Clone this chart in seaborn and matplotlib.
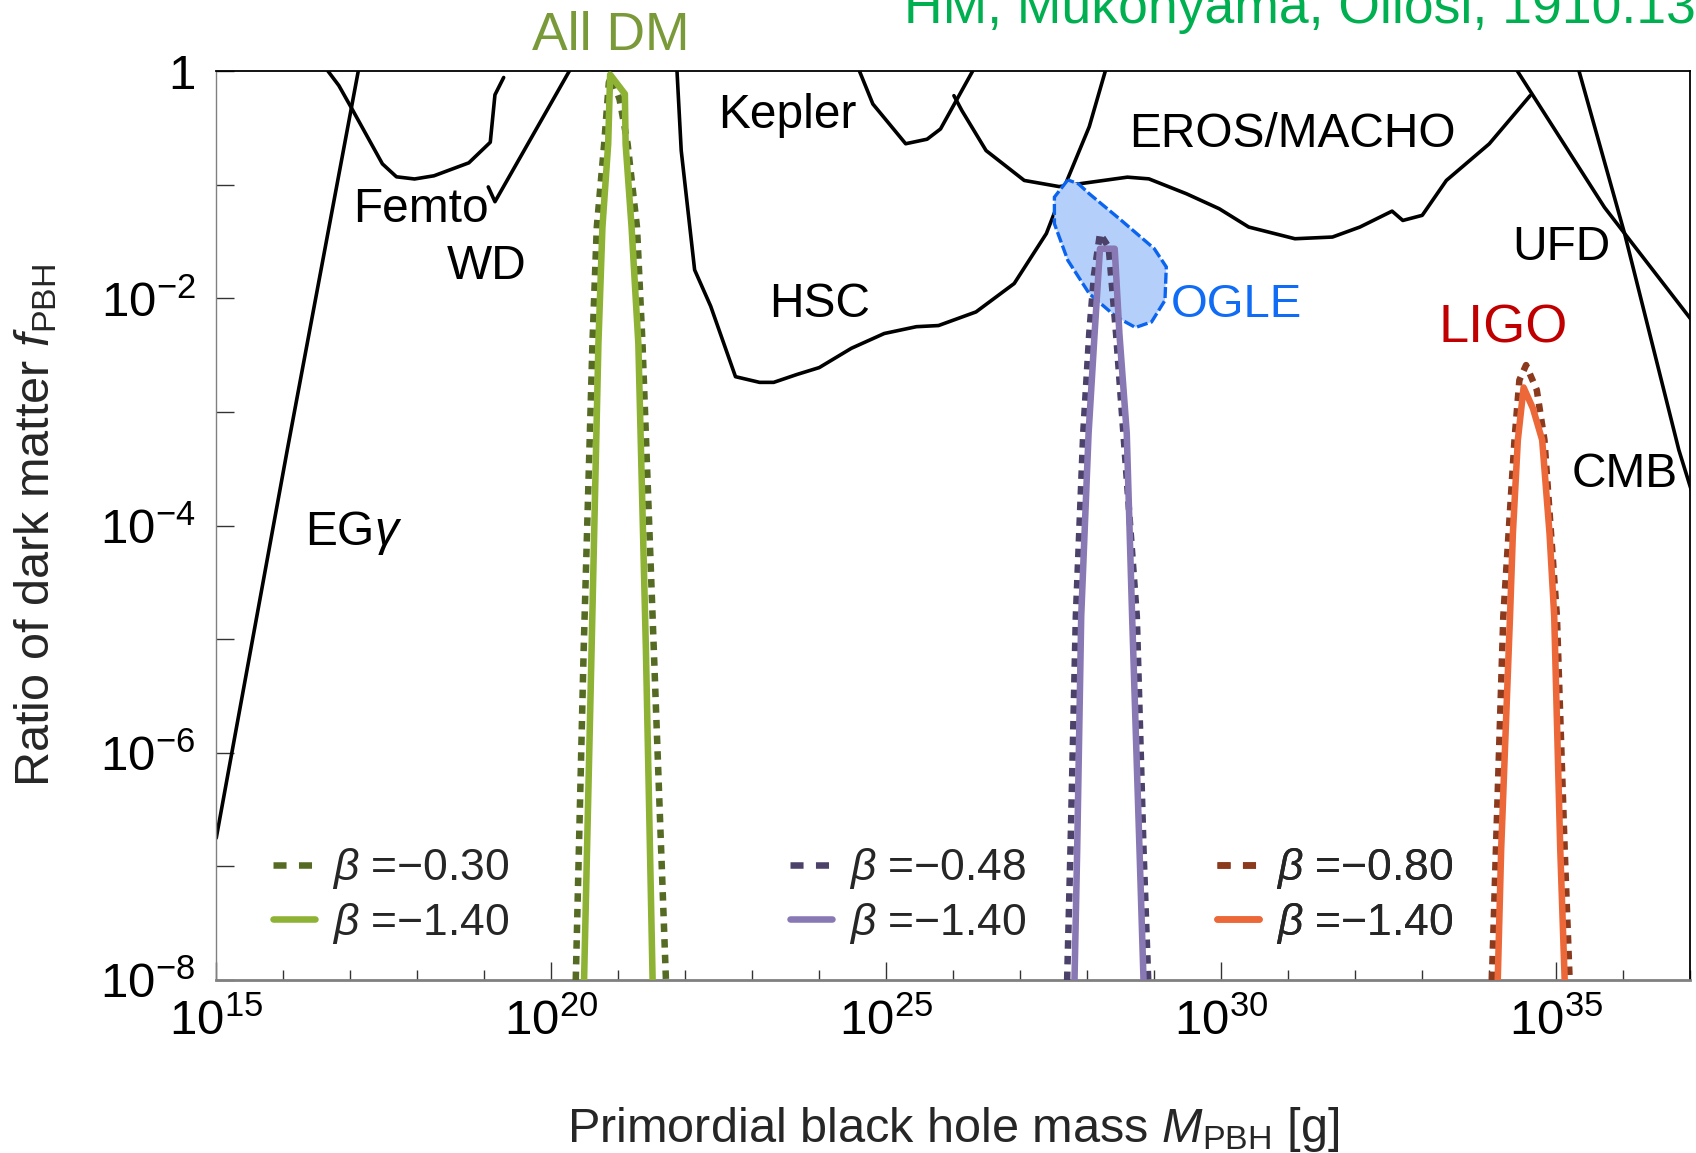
import numpy as np
import pandas as pd
import matplotlib
matplotlib.use("Agg")
import matplotlib.pyplot as plt
import seaborn as sns
from matplotlib.lines import Line2D
from matplotlib.ticker import FixedLocator, FixedFormatter, NullFormatter

# ---------------- data (log10 of mass in g, log10 of f_PBH) ----------------
egamma_logm = [15.0, 16.06, 17.12]
egamma_logf = [-6.75, -3.335, 0.0]

femto_logm = [16.667, 16.83, 17.04, 17.48, 17.69, 17.96, 18.25, 18.77, 19.09, 19.16, 19.29]
femto_logf = [0.0, -0.128, -0.348, -0.817, -0.931, -0.950, -0.922, -0.808, -0.627, -0.209, -0.057]

wd_logm = [19.06, 19.16, 20.27]
wd_logf = [-1.02, -1.15, 0.0]

hsc_logm = [21.877, 21.94, 22.14, 22.38, 22.75, 23.11, 23.32, 23.67, 24.00, 24.48, 24.97,
            25.45, 25.78, 26.34, 26.91, 27.39, 27.70, 28.03, 28.27]
hsc_logf = [0.0, -0.70, -1.75, -2.07, -2.69, -2.74, -2.74, -2.67, -2.61, -2.44, -2.31,
            -2.25, -2.24, -2.12, -1.87, -1.43, -0.96, -0.49, 0.0]

kepler_logm = [24.60, 24.80, 25.29, 25.61, 25.81, 26.29]
kepler_logf = [0.0, -0.29, -0.64, -0.60, -0.51, 0.0]

eros_logm = [26.01, 26.13, 26.49, 27.06, 27.58, 27.95, 28.60, 28.92, 29.48, 29.97, 30.41,
             31.10, 31.66, 32.07, 32.55, 32.71, 33.00, 33.36, 34.00, 34.61]
eros_logf = [-0.217, -0.349, -0.70, -0.963, -1.017, -0.987, -0.934, -0.949, -1.080, -1.212, -1.373,
             -1.476, -1.461, -1.373, -1.233, -1.315, -1.270, -0.963, -0.641, -0.217]

ufd_logm = [34.42, 35.72, 37.03]
ufd_logf = [0.0, -1.20, -2.20]

cmb_logm = [35.34, 36.02, 36.83, 37.03]
cmb_logf = [0.0, -1.43, -3.335, -3.715]

ogle_logm = [27.71, 27.51, 27.51, 27.71, 28.03, 28.43, 28.72, 28.96, 29.16, 29.18, 29.00, 28.51, 28.03, 27.87]
ogle_logf = [-0.958, -1.110, -1.344, -1.666, -1.959, -2.163, -2.257, -2.208, -2.018, -1.724, -1.563,
             -1.315, -1.080, -0.993]

# peaks: beta dashed (first value) and beta = -1.40 solid
green_dash_logm = [20.366, 20.484, 20.615, 20.68, 20.79, 20.86, 20.90, 21.02, 21.14, 21.28, 21.362, 21.531, 21.712]
green_dash_logf = [-8.0, -5.093, -2.398, -1.374, -0.641, -0.10, -0.05, -0.25, -0.641, -1.374, -2.398, -5.093, -8.0]
green_solid_logm = [20.490, 20.602, 20.704, 20.764, 20.85, 20.879, 21.099, 21.11, 21.199, 21.30, 21.413, 21.513]
green_solid_logf = [-8.0, -5.093, -2.398, -1.374, -0.641, -0.032, -0.202, -0.641, -1.374, -2.398, -5.093, -8.0]

purple_dash_logm = [27.70, 27.75, 27.83, 27.94, 28.03, 28.10, 28.19, 28.32, 28.43, 28.54, 28.74, 28.84, 28.91]
purple_dash_logf = [-8.0, -6.85, -4.80, -3.19, -2.31, -1.80, -1.432, -1.55, -2.31, -3.19, -4.80, -6.85, -8.0]
purple_solid_logm = [27.81, 27.85, 27.91, 28.02, 28.11, 28.19, 28.41, 28.48, 28.59, 28.67, 28.78, 28.84]
purple_solid_logf = [-8.0, -6.85, -4.80, -3.19, -2.31, -1.564, -1.564, -2.31, -3.19, -4.80, -6.85, -8.0]

orange_dash_logm = [34.04, 34.10, 34.21, 34.377, 34.45, 34.55, 34.71, 34.824, 35.01, 35.126, 35.20]
orange_dash_logf = [-8.0, -6.85, -4.80, -3.247, -2.72, -2.588, -2.808, -3.247, -4.80, -6.85, -8.0]
orange_solid_logm = [34.127, 34.178, 34.31, 34.353, 34.427, 34.513, 34.652, 34.79, 34.90, 34.97, 35.06, 35.126]
orange_solid_logf = [-8.0, -6.85, -4.80, -4.07, -3.247, -2.785, -2.969, -3.247, -4.07, -4.80, -6.85, -8.0]

legend_labels_dash = ["\u22120.30", "\u22120.48", "\u22120.80"]
legend_labels_solid = ["\u22121.40", "\u22121.40", "\u22121.40"]

x_major_exps = [15, 20, 25, 30, 35]
x_minor_exps = list(range(15, 38))
y_major_exps = [0, -2, -4, -6, -8]
y_minor_exps = list(range(-8, 1))

# ---------------- style ----------------
sns.set_theme(style="ticks")
plt.rcParams['font.family'] = ['Liberation Sans', 'DejaVu Sans']
plt.rcParams['mathtext.fontset'] = 'custom'
plt.rcParams['mathtext.rm'] = 'Liberation Sans'
plt.rcParams['mathtext.it'] = 'Liberation Sans:italic'
plt.rcParams['mathtext.bf'] = 'Liberation Sans:bold'

fig = plt.figure(figsize=(16.96, 11.53), dpi=100)
ax = fig.add_axes([0.1275, 0.1500, 0.8691, 0.7884])
ax.set_xscale('log')
ax.set_yscale('log')


def draw(logm, logf, color, lw, ls='-', z=2):
    df = pd.DataFrame({'M': 10.0 ** np.array(logm), 'f': 10.0 ** np.array(logf)})
    sns.lineplot(data=df, x='M', y='f', sort=False, estimator=None, color=color,
                 linewidth=lw, linestyle=ls, ax=ax, zorder=z)


BLK_LW = 2.6
for lm, lf in [(egamma_logm, egamma_logf), (femto_logm, femto_logf), (wd_logm, wd_logf),
               (hsc_logm, hsc_logf), (kepler_logm, kepler_logf), (eros_logm, eros_logf),
               (ufd_logm, ufd_logf), (cmb_logm, cmb_logf)]:
    draw(lm, lf, 'black', BLK_LW)

# OGLE region
ax.fill(10.0 ** np.array(ogle_logm), 10.0 ** np.array(ogle_logf), facecolor='#b4d0fa',
        edgecolor='#0a64f0', linewidth=2.4, linestyle=(0, (3.3, 1.0)), zorder=3)

PK_LW = 4.7
DASH = (0, (1.3, 1.1))
cols_dash = ['#556b23', '#4b4169', '#8c3a1e']
cols_solid = ['#8db234', '#8878b4', '#ec6838']
draw(green_dash_logm, green_dash_logf, cols_dash[0], PK_LW, DASH, 4)
draw(purple_dash_logm, purple_dash_logf, cols_dash[1], PK_LW, DASH, 4)
draw(orange_dash_logm, orange_dash_logf, cols_dash[2], PK_LW, DASH, 4)
draw(green_solid_logm, green_solid_logf, cols_solid[0], PK_LW, '-', 5)
draw(purple_solid_logm, purple_solid_logf, cols_solid[1], PK_LW, '-', 5)
draw(orange_solid_logm, orange_solid_logf, cols_solid[2], PK_LW, '-', 5)

ax.set_xlim(1e15, 1e37)
ax.set_ylim(1e-8, 1)

# ---------------- ticks ----------------
ax.xaxis.set_major_locator(FixedLocator([10.0 ** e for e in x_major_exps]))
ax.xaxis.set_major_formatter(FixedFormatter([r"$10^{%d}$" % e for e in x_major_exps]))
ax.xaxis.set_minor_locator(FixedLocator([10.0 ** e for e in x_minor_exps if e not in x_major_exps]))
ax.xaxis.set_minor_formatter(NullFormatter())
ax.yaxis.set_major_locator(FixedLocator([10.0 ** e for e in y_major_exps]))
ax.yaxis.set_major_formatter(FixedFormatter(["1" if e == 0 else r"$10^{%d}$" % e for e in y_major_exps]))
ax.yaxis.set_minor_locator(FixedLocator([10.0 ** e for e in y_minor_exps if e not in y_major_exps]))
ax.yaxis.set_minor_formatter(NullFormatter())

ax.tick_params(axis='both', which='both', direction='in', color='#333333', width=1.0,
               labelsize=35.5, labelcolor='black', top=False, right=False)
ax.tick_params(axis='x', which='major', length=13, pad=13)
ax.tick_params(axis='x', which='minor', length=7.5)
ax.tick_params(axis='y', which='both', length=13, pad=15)

for side in ['top', 'right']:
    ax.spines[side].set_color('black')
    ax.spines[side].set_linewidth(1.3)
ax.spines['bottom'].set_color('#808080')
ax.spines['bottom'].set_linewidth(2.0)
ax.spines['left'].set_color('#808080')
ax.spines['left'].set_linewidth(1.0)

# ---------------- labels ----------------
ax.set_xlabel(r"Primordial black hole mass $M_{\rm PBH}$ [g]", fontsize=35)
ax.set_ylabel(r"Ratio of dark matter $f_{\rm PBH}$", fontsize=35)
ax.xaxis.label.set_va('baseline')
ax.xaxis.set_label_coords(0.5, -0.178)
ax.yaxis.label.set_va('baseline')
ax.yaxis.set_label_coords(-0.1135, 0.5)

txt_kw = dict(ha='left', va='baseline', fontsize=34.5, color='black', zorder=6)
for s, lm, lf in [("Kepler", 22.485, -0.502), ("EROS/MACHO", 28.63, -0.666),
                  ("Femto", 17.046, -1.333), ("WD", 18.446, -1.834), ("HSC", 23.258, -2.168),
                  ("UFD", 34.349, -1.664), ("CMB", 35.234, -3.659), (r"EG$\gamma$", 16.325, -4.173)]:
    ax.text(10 ** lm, 10 ** lf, s, **txt_kw)
ax.text(10 ** 29.251, 10 ** -2.163, "OGLE", ha='left', va='baseline', fontsize=34, color='#106cf5', zorder=6)
ax.text(10 ** 33.237, 10 ** -2.388, "LIGO", ha='left', va='baseline', fontsize=39, color='#c00000', zorder=6)
ax.text(10 ** 20.89, 10 ** 0.185, "All DM", ha='center', va='baseline', fontsize=38.5,
        color='#7a9a3a', clip_on=False)
fig.text(904 / 1696, 1 - 23 / 1153, "HM, Mukohyama, Oliosi, 1910.13235", ha='left', va='baseline',
         fontsize=38.5, color='#00b050')

# ---------------- legends ----------------
anchors_x = [0.0385, 0.389, 0.6788]
for i in range(3):
    h_d = Line2D([], [], color=cols_dash[i], lw=PK_LW, linestyle=(0, (2.0, 1.9)))
    h_s = Line2D([], [], color=cols_solid[i], lw=PK_LW)
    leg = ax.legend([h_d, h_s],
                    [r"$\beta$ =" + legend_labels_dash[i], r"$\beta$ =" + legend_labels_solid[i]],
                    loc='center left', bbox_to_anchor=(anchors_x[i], 0.0924), frameon=False,
                    fontsize=32, handlelength=0.95, handletextpad=0.38, labelspacing=0.22,
                    borderpad=0, borderaxespad=0)
    ax.add_artist(leg)

fig.savefig("out.png", dpi=100)
